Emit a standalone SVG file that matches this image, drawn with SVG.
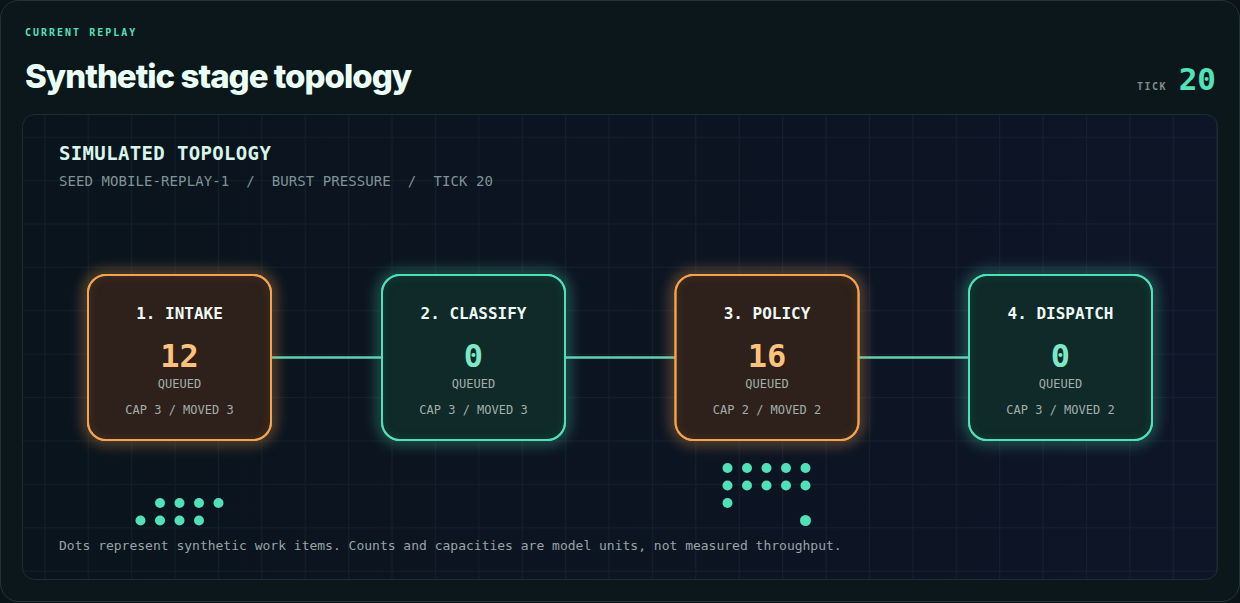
<svg xmlns="http://www.w3.org/2000/svg" width="1240" height="603" viewBox="0 0 1240 603">
<defs>
<style>
.mono{font-family:"DejaVu Sans Mono","Liberation Mono",monospace}
.eyebrow{font-size:10px;font-weight:bold;letter-spacing:2px;fill:#52e0b8}
.title{font-family:Inter,"Liberation Sans",sans-serif;font-size:33px;font-weight:800;letter-spacing:-1px;fill:#eafff6}
.ticklbl{font-size:10px;font-weight:bold;letter-spacing:1.5px;fill:#7d8d8e}
.tickval{font-size:31px;font-weight:bold;fill:#52e3b8}
.ptitle{font-size:19px;font-weight:bold;letter-spacing:0.35px;fill:#d8f5ea}
.psub{font-size:14px;letter-spacing:0.08px;fill:#7f9396}
.ntitle{font-size:16px;font-weight:bold;fill:#eef8f4;text-anchor:middle}
.num{font-size:32px;font-weight:bold;text-anchor:middle}
.numo{fill:#ffc27d}
.numt{fill:#7ee8c6}
.q{font-size:12px;fill:#a3aeac;text-anchor:middle}
.cap{font-size:12px;fill:#a3aeac;text-anchor:middle}
.foot{font-size:13px;fill:#98a4a6}
.boxo{fill:#2e211b;stroke:#f5a34f;stroke-width:2}
.boxt{fill:#0f2a28;stroke:#4fe0b6;stroke-width:2}
.innero{fill:none;stroke:#4a3222;stroke-width:8;opacity:0.5}
.innert{fill:none;stroke:#16403a;stroke-width:8;opacity:0.5}
.glowo{fill:none;stroke:#f5a34f;stroke-width:8;opacity:0.5}
.glowt{fill:none;stroke:#4fe0b6;stroke-width:8;opacity:0.45}
.band{stroke:#3fc9a0;stroke-width:10;opacity:0.38}
.core{stroke:#6ae6c0;stroke-width:2.5;opacity:0.9}
.dot{fill:#52e0b8}
</style>
<filter id="blur" x="-30%" y="-30%" width="160%" height="160%"><feGaussianBlur stdDeviation="7"/></filter>
<filter id="iblur" x="-10%" y="-10%" width="120%" height="120%"><feGaussianBlur stdDeviation="3"/></filter>
<filter id="lblur" x="-10%" y="-200%" width="120%" height="500%"><feGaussianBlur stdDeviation="0.8"/></filter>
<linearGradient id="panelg" x1="0" y1="0" x2="1" y2="0">
<stop offset="0" stop-color="#0a141c"/>
<stop offset="1" stop-color="#0e1527"/>
</linearGradient>
<pattern id="grid" patternUnits="userSpaceOnUse" x="0.9" y="6.5" width="43.4" height="43.4">
<path d="M0.5 0 V43.4 M0 0.5 H43.4" stroke="#8fb4c8" stroke-opacity="0.07" stroke-width="1" fill="none"/>
</pattern>
<clipPath id="pclip"><rect x="22" y="114" width="1196" height="466" rx="12"/></clipPath>
<clipPath id="c1"><rect x="88" y="275" width="183" height="165" rx="18"/></clipPath>
<clipPath id="c2"><rect x="382" y="275" width="183" height="165" rx="18"/></clipPath>
<clipPath id="c3"><rect x="675.5" y="275" width="183" height="165" rx="18"/></clipPath>
<clipPath id="c4"><rect x="969" y="275" width="183" height="165" rx="18"/></clipPath>
</defs>
<rect x="0" y="0" width="1240" height="603" fill="#0a1317"/>
<rect x="0.5" y="0.5" width="1239" height="601" rx="18" fill="#0c171c" stroke="#22343a" stroke-width="1"/>
<g id="header">
<text class="mono eyebrow" x="25" y="36">CURRENT REPLAY</text>
<text class="title" x="25" y="88">Synthetic stage topology</text>
<text class="mono ticklbl" x="1137" y="90">TICK</text>
<text class="mono tickval" x="1216" y="90" text-anchor="end">20</text>
</g>
<g id="panel">
<rect x="22" y="114" width="1196" height="466" rx="12" fill="url(#panelg)"/>
<rect x="22" y="114" width="1196" height="466" fill="url(#grid)" clip-path="url(#pclip)"/>
<rect x="22.5" y="114.5" width="1195" height="465" rx="12" fill="none" stroke="#1c2d33" stroke-width="1"/>
<text class="mono ptitle" x="59" y="160">SIMULATED TOPOLOGY</text>
<text class="mono psub" x="59" y="186" xml:space="preserve">SEED MOBILE-REPLAY-1  /  BURST PRESSURE  /  TICK 20</text>
</g>
<g id="connectors">
<line class="band" x1="271" y1="357.5" x2="382" y2="357.5" filter="url(#lblur)"/>
<line class="core" x1="271" y1="357.5" x2="382" y2="357.5"/>
<line class="band" x1="565" y1="357.5" x2="675" y2="357.5" filter="url(#lblur)"/>
<line class="core" x1="565" y1="357.5" x2="675" y2="357.5"/>
<line class="band" x1="859" y1="357.5" x2="969" y2="357.5" filter="url(#lblur)"/>
<line class="core" x1="859" y1="357.5" x2="969" y2="357.5"/>
</g>
<g id="node-intake">
<rect class="glowo" x="88" y="275" width="183" height="165" rx="18" filter="url(#blur)"/>
<rect class="boxo" x="88" y="275" width="183" height="165" rx="18"/>
<rect class="innero" x="88" y="275" width="183" height="165" rx="18" filter="url(#iblur)" clip-path="url(#c1)"/>
<rect x="88" y="275" width="183" height="165" rx="18" fill="none" stroke="#f5a34f" stroke-width="2"/>
<text class="mono ntitle" x="179.5" y="319">1. INTAKE</text>
<text class="mono num numo" x="179.5" y="367">12</text>
<text class="mono q" x="179.5" y="388">QUEUED</text>
<text class="mono cap" x="179.5" y="414">CAP 3 / MOVED 3</text>
</g>
<g id="node-classify">
<rect class="glowt" x="382" y="275" width="183" height="165" rx="18" filter="url(#blur)"/>
<rect class="boxt" x="382" y="275" width="183" height="165" rx="18"/>
<rect class="innert" x="382" y="275" width="183" height="165" rx="18" filter="url(#iblur)" clip-path="url(#c2)"/>
<rect x="382" y="275" width="183" height="165" rx="18" fill="none" stroke="#4fe0b6" stroke-width="2"/>
<text class="mono ntitle" x="473.5" y="319">2. CLASSIFY</text>
<text class="mono num numt" x="473.5" y="367">0</text>
<text class="mono q" x="473.5" y="388">QUEUED</text>
<text class="mono cap" x="473.5" y="414">CAP 3 / MOVED 3</text>
</g>
<g id="node-policy">
<rect class="glowo" x="675.5" y="275" width="183" height="165" rx="18" filter="url(#blur)"/>
<rect class="boxo" x="675.5" y="275" width="183" height="165" rx="18"/>
<rect class="innero" x="675.5" y="275" width="183" height="165" rx="18" filter="url(#iblur)" clip-path="url(#c3)"/>
<rect x="675.5" y="275" width="183" height="165" rx="18" fill="none" stroke="#f5a34f" stroke-width="2"/>
<text class="mono ntitle" x="767" y="319">3. POLICY</text>
<text class="mono num numo" x="767" y="367">16</text>
<text class="mono q" x="767" y="388">QUEUED</text>
<text class="mono cap" x="767" y="414">CAP 2 / MOVED 2</text>
</g>
<g id="node-dispatch">
<rect class="glowt" x="969" y="275" width="183" height="165" rx="18" filter="url(#blur)"/>
<rect class="boxt" x="969" y="275" width="183" height="165" rx="18"/>
<rect class="innert" x="969" y="275" width="183" height="165" rx="18" filter="url(#iblur)" clip-path="url(#c4)"/>
<rect x="969" y="275" width="183" height="165" rx="18" fill="none" stroke="#4fe0b6" stroke-width="2"/>
<text class="mono ntitle" x="1060.5" y="319">4. DISPATCH</text>
<text class="mono num numt" x="1060.5" y="367">0</text>
<text class="mono q" x="1060.5" y="388">QUEUED</text>
<text class="mono cap" x="1060.5" y="414">CAP 3 / MOVED 2</text>
</g>
<g id="dots-intake">
<circle class="dot" cx="160" cy="503" r="5"/>
<circle class="dot" cx="179.5" cy="503" r="5"/>
<circle class="dot" cx="199" cy="503" r="5"/>
<circle class="dot" cx="218.5" cy="503" r="5"/>
<circle class="dot" cx="140.5" cy="520.5" r="5"/>
<circle class="dot" cx="160" cy="520.5" r="5"/>
<circle class="dot" cx="179.5" cy="520.5" r="5"/>
<circle class="dot" cx="199" cy="520.5" r="5"/>
</g>
<g id="dots-policy">
<circle class="dot" cx="727.5" cy="468" r="5"/>
<circle class="dot" cx="747" cy="468" r="5"/>
<circle class="dot" cx="766.5" cy="468" r="5"/>
<circle class="dot" cx="786" cy="468" r="5"/>
<circle class="dot" cx="805.5" cy="468" r="5"/>
<circle class="dot" cx="727.5" cy="485.5" r="5"/>
<circle class="dot" cx="747" cy="485.5" r="5"/>
<circle class="dot" cx="766.5" cy="485.5" r="5"/>
<circle class="dot" cx="786" cy="485.5" r="5"/>
<circle class="dot" cx="805.5" cy="485.5" r="5"/>
<circle class="dot" cx="727.5" cy="503" r="5"/>
<circle class="dot" cx="805.5" cy="520.5" r="5.5"/>
</g>
<g id="footer">
<text class="mono foot" x="59" y="550">Dots represent synthetic work items. Counts and capacities are model units, not measured throughput.</text>
</g>
</svg>
